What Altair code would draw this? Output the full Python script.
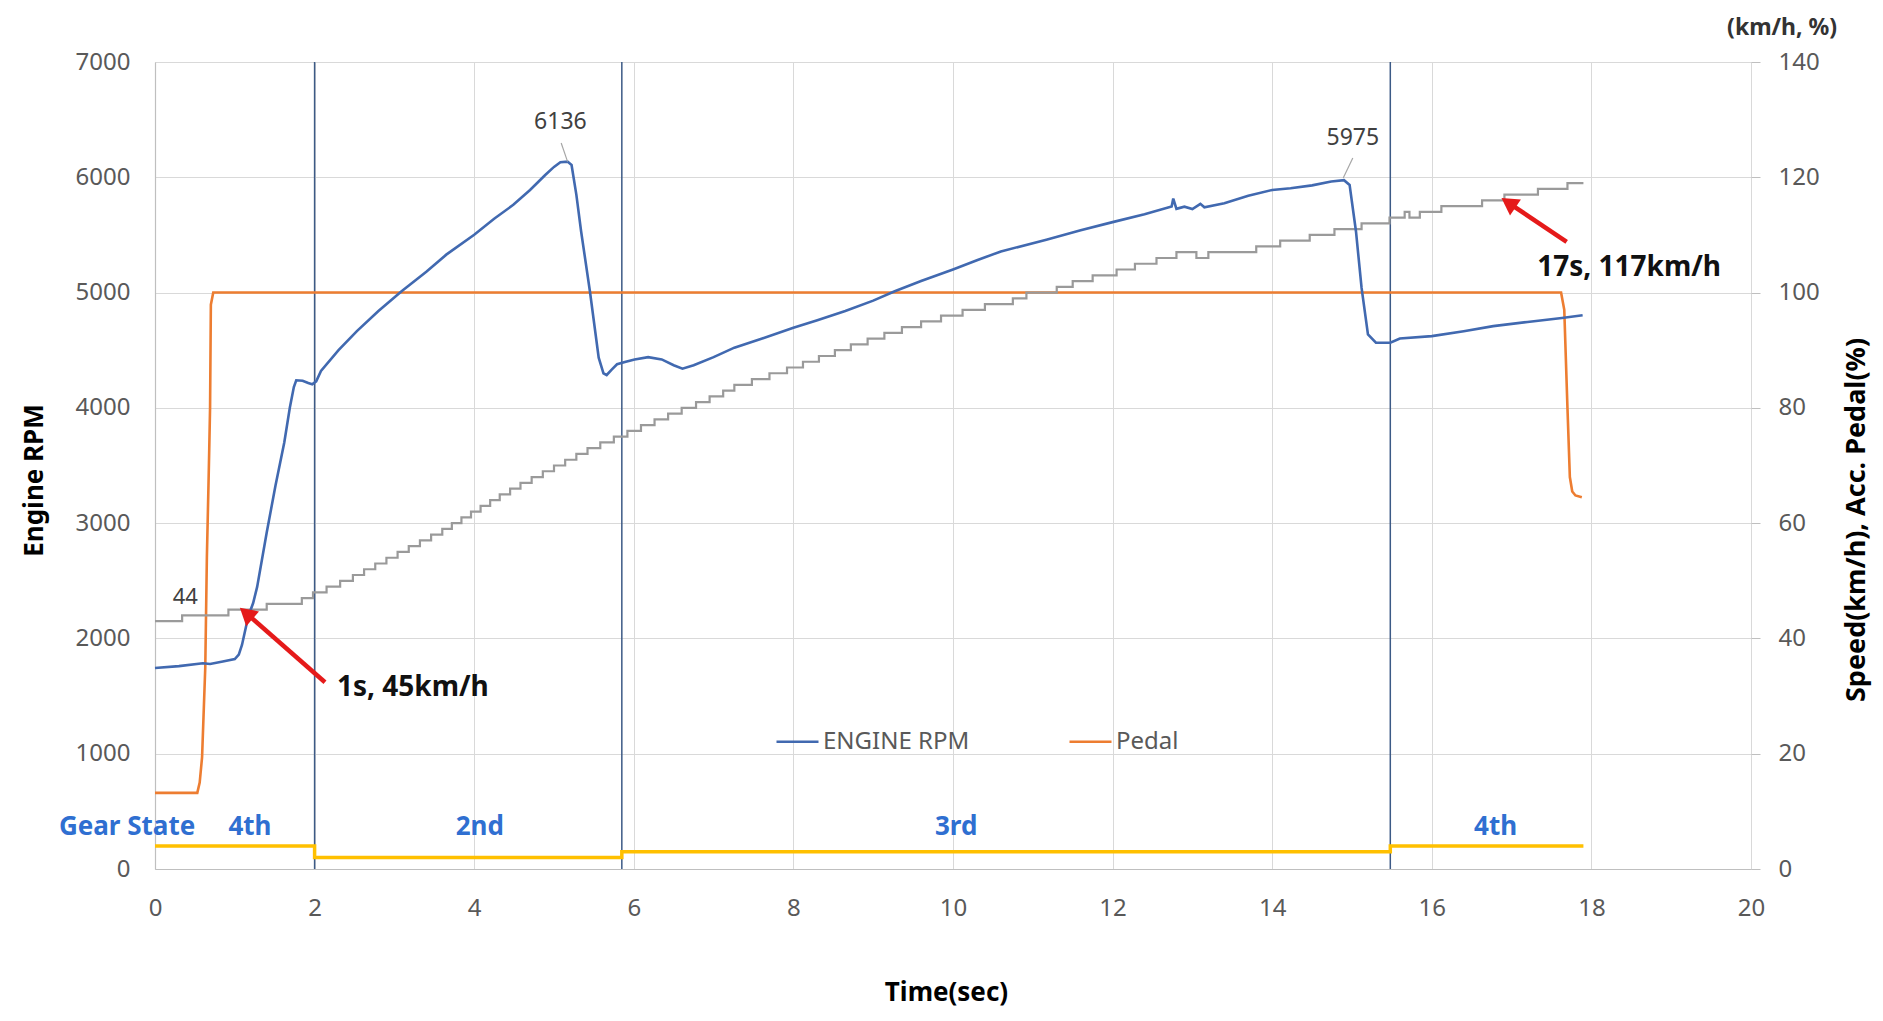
import altair as alt
import pandas as pd

FONT = "Noto Sans"

# ---------------- data ----------------
rpm_time = [0.00, 0.30, 0.60, 0.69, 0.85, 1.00, 1.05, 1.09, 1.17, 1.23, 1.28, 1.40, 1.51, 1.62,
            1.69, 1.74, 1.77, 1.85, 1.92, 1.97, 2.02, 2.08, 2.30, 2.53, 2.80, 3.09, 3.40, 3.65,
            4.00, 4.25, 4.49, 4.70, 4.89, 5.00, 5.08, 5.17, 5.22, 5.28, 5.34, 5.45, 5.56, 5.62,
            5.66, 5.72, 5.79, 5.90, 6.01, 6.18, 6.35, 6.50, 6.61, 6.75, 7.00, 7.26, 7.60, 8.00,
            8.30, 8.65, 9.00, 9.27, 9.60, 10.00, 10.30, 10.60, 11.17, 11.60, 12.00, 12.40, 12.74,
            12.76, 12.80, 12.90, 13.00, 13.10, 13.15, 13.40, 13.70, 14.00, 14.23, 14.50, 14.74,
            14.90, 14.97, 15.05, 15.12, 15.20, 15.30, 15.48, 15.60, 16.00, 16.40, 16.77, 17.20,
            17.63, 17.89]
rpm_value = [1743, 1760, 1785, 1778, 1800, 1821, 1860, 1943, 2195, 2307, 2447, 2918, 3327, 3700,
             4003, 4180, 4239, 4235, 4215, 4205, 4230, 4320, 4500, 4666, 4840, 5012, 5180, 5329,
             5501, 5640, 5761, 5890, 6020, 6090, 6130, 6136, 6107, 5850, 5530, 5012, 4435, 4300,
             4285, 4330, 4378, 4400, 4420, 4440, 4420, 4370, 4340, 4370, 4440, 4522, 4600, 4695,
             4760, 4840, 4930, 5012, 5100, 5200, 5280, 5357, 5458, 5540, 5611, 5680, 5746,
             5815, 5726, 5745, 5725, 5770, 5740, 5775, 5840, 5890, 5905, 5930, 5963,
             5975, 5934, 5530, 5040, 4637, 4565, 4565, 4602, 4622, 4665, 4709, 4745,
             4780, 4804]

pedal_time = [0.00, 0.53, 0.56, 0.59, 0.63, 0.65, 0.67, 0.68, 0.69, 0.70, 0.73,
              17.62, 17.66, 17.70, 17.73, 17.76, 17.80, 17.88]
pedal_value = [13.2, 13.2, 15.0, 19.4, 35.0, 54.0, 66.5, 73.0, 80.0, 97.9, 100.0,
               100.0, 97.0, 80.0, 68.0, 65.5, 64.8, 64.5]

speed_time = [0.00, 0.34, 0.92, 1.40, 1.84, 1.98, 2.15, 2.32, 2.48, 2.62, 2.76, 2.90, 3.04,
              3.18, 3.32, 3.46, 3.60, 3.72, 3.84, 3.96, 4.08, 4.20, 4.32, 4.45, 4.58, 4.72,
              4.86, 5.00, 5.14, 5.28, 5.42, 5.58, 5.75, 5.92, 6.09, 6.26, 6.43, 6.60, 6.78,
              6.95, 7.12, 7.26, 7.48, 7.70, 7.92, 8.12, 8.32, 8.52, 8.72, 8.93, 9.14, 9.36,
              9.60, 9.85, 10.12, 10.40, 10.75, 10.92, 11.30, 11.50, 11.75, 12.05, 12.28, 12.55,
              12.80, 13.05, 13.20, 13.80, 14.10, 14.47, 14.78, 15.12, 15.47, 15.66, 15.72,
              15.85, 16.12, 16.63, 16.91, 17.33, 17.70, 17.90]
speed_value = [43, 44, 45, 46, 47, 48, 49, 50, 51, 52, 53, 54, 55,
               56, 57, 58, 59, 60, 61, 62, 63, 64, 65, 66, 67, 68,
               69, 70, 71, 72, 73, 74, 75, 76, 77, 78, 79, 80, 81,
               82, 83, 84, 85, 86, 87, 88, 89, 90, 91, 92, 93, 94,
               95, 96, 97, 98, 99, 100, 101, 102, 103, 104, 105, 106,
               107, 106, 107, 108, 109, 110, 111, 112, 113, 114, 113,
               114, 115, 116, 117, 118, 119, 119]

gear_time = [0.0, 2.0, 5.85, 15.48, 17.9]
gear_value = [4, 2, 3, 4, 4]
gear_names = ["4th", "2nd", "3rd", "4th"]
shift_times = [2.0, 5.85, 15.48]

peak_time = [5.17, 14.90]
peak_rpm = [6136, 5975]

start_speed_label = "44"

x_ticks = list(range(0, 21, 2))
rpm_ticks = list(range(0, 7001, 1000))
right_ticks = list(range(0, 141, 20))

series_names = ["ENGINE RPM", "Pedal"]

# ---------------- annotation placement (text / arrow anchors) ----------------
gear_label_t = [1.19, 4.07, 10.04, 16.80]
gear_label_v = 7.3
peak_label_t = [5.08, 15.01]
peak_label_v = [6479, 6340]
leader_t1, leader_v1 = [5.17, 14.89], [6136, 5993]
leader_t2, leader_v2 = [5.09, 15.01], [6297, 6167]

# ---------------- styling ----------------
BLUE = "#4169B0"
ORANGE = "#ED7D31"
GRAY = "#9A9A9A"
GOLD = "#FFC000"
SHIFT = "#3C5A86"
RED = "#E51A1A"
GEARBLUE = "#2F6FD1"
GRID = "#D9D9D9"
LABEL = "#595959"

X_SCALE = alt.Scale(domain=[0, 20], nice=False, zero=False)
L_SCALE = alt.Scale(domain=[0, 7000], nice=False)
R_SCALE = alt.Scale(domain=[0, 140], nice=False)

x_axis = alt.Axis(values=x_ticks, format="d", title="Time(sec)", grid=True, gridColor=GRID,
                  gridWidth=1, ticks=False, tickSize=0, labelFontSize=24, labelColor=LABEL,
                  labelPadding=27, labelFont=FONT, labelFlush=False, domainColor="#BFBFBF",
                  domainWidth=1.2, titleFontSize=26, titleFontWeight="bold",
                  titleColor="#000000", titleFont=FONT, titleX=791, titleY=123,
                  titleBaseline="middle", titleAlign="center", titleAngle=0)

left_axis = alt.Axis(orient="left", values=rpm_ticks, format="d", title="Engine RPM", grid=True,
                     gridColor=GRID, gridWidth=1, ticks=False, tickSize=0, labelFontSize=24,
                     labelColor=LABEL, labelPadding=25, labelFont=FONT, labelFlush=False,
                     domainColor="#BFBFBF", domainWidth=1.2, titleFontSize=26,
                     titleFontWeight="bold", titleColor="#000000", titleFont=FONT,
                     titleX=-121, titleY=418, titleAngle=270, titleBaseline="middle",
                     titleAlign="center")

right_axis = alt.Axis(orient="right", values=right_ticks, format="d",
                      title="Speed(km/h), Acc. Pedal(%)",
                      grid=False, ticks=True, tickSize=9, tickColor="#BFBFBF", tickWidth=1,
                      labelPadding=18, labelFontSize=24, labelColor=LABEL, labelFont=FONT,
                      labelFlush=False, domain=False, titleFontSize=27, titleFontWeight="bold",
                      titleColor="#000000", titleFont=FONT, titleX=105, titleY=457.5,
                      titleAngle=270, titleBaseline="middle", titleAlign="center")


def X(field="t"):
    return alt.X(f"{field}:Q", scale=X_SCALE, axis=x_axis)


def YL(field="v", axis=None):
    return alt.Y(f"{field}:Q", scale=L_SCALE, axis=axis)


def YR(field="v", axis=None):
    return alt.Y(f"{field}:Q", scale=R_SCALE, axis=axis)


color_enc = alt.Color(
    "series:N",
    scale=alt.Scale(domain=series_names, range=[BLUE, ORANGE]),
    legend=alt.Legend(title=None, orient="none", legendX=620, legendY=657, direction="horizontal",
                      symbolType="stroke", symbolSize=1764, symbolStrokeWidth=2.5,
                      labelFontSize=24, labelColor=LABEL, labelFont=FONT, labelOffset=3,
                      columnPadding=94, padding=0),
)

# ---------------- frames ----------------
rpm_df = pd.DataFrame({"t": rpm_time, "v": rpm_value, "series": series_names[0]})
pedal_df = pd.DataFrame({"t": pedal_time, "v": pedal_value, "series": series_names[1]})
speed_df = pd.DataFrame({"t": speed_time, "v": speed_value})
gear_df = pd.DataFrame({"t": gear_time, "v": gear_value})
shift_df = pd.DataFrame({"t": shift_times})
peak_lbl_df = pd.DataFrame({"t": peak_label_t, "v": peak_label_v,
                            "label": [str(p) for p in peak_rpm]})
leader_df = pd.DataFrame({"t": leader_t1, "v": leader_v1, "t2": leader_t2, "v2": leader_v2})
gear_lbl_df = pd.DataFrame({"t": [-0.35] + gear_label_t, "v": [gear_label_v] * 5,
                            "label": ["Gear State"] + gear_names})
speed44_df = pd.DataFrame({"t": [0.38], "v": [47.2], "label": [start_speed_label]})
unit_df = pd.DataFrame({"t": [20.39], "v": [145.9], "label": ["(km/h, %)"]})
note_df = pd.DataFrame({"t": [2.28, 17.32], "v": [31.4, 104.3],
                        "label": ["1s, 45km/h", "17s, 117km/h"]})
arrow_df = pd.DataFrame({"t": [2.13, 17.69], "v": [32.4, 108.8],
                         "t2": [1.17, 16.99], "v2": [44.05, 115.3]})
head_df = pd.DataFrame({"t": [1.17, 16.99], "v": [44.05, 115.3], "ang": [311, 304]})

# ---------------- layers ----------------
shift_layer = alt.Chart(shift_df).mark_rule(color=SHIFT, strokeWidth=1.5).encode(x=X())

pedal_layer = alt.Chart(pedal_df).mark_line(strokeWidth=2.6).encode(
    x=X(), y=YR(axis=right_axis), color=color_enc)

speed_layer = alt.Chart(speed_df).mark_line(color=GRAY, strokeWidth=2.2,
                                            interpolate="step-after").encode(x=X(), y=YR())

gear_layer = alt.Chart(gear_df).mark_line(color=GOLD, strokeWidth=3.5,
                                          interpolate="step-after").encode(x=X(), y=YR())

rpm_layer = alt.Chart(rpm_df).mark_line(strokeWidth=2.6).encode(
    x=X(), y=YL(axis=left_axis), color=color_enc)

leader_layer = alt.Chart(leader_df).mark_rule(color="#A6A6A6", strokeWidth=1.2).encode(
    x=X(), y=YL(), x2="t2:Q", y2="v2:Q")

peak_text = alt.Chart(peak_lbl_df).mark_text(font=FONT, fontSize=23, color="#404040",
                                             align="center", baseline="middle").encode(
    x=X(), y=YL(), text="label:N")

gear_text = alt.Chart(gear_lbl_df).mark_text(font=FONT, fontSize=26, fontWeight="bold",
                                             color=GEARBLUE, align="center",
                                             baseline="middle").encode(
    x=X(), y=YR(), text="label:N")

speed44_text = alt.Chart(speed44_df).mark_text(font=FONT, fontSize=22, color="#404040",
                                               align="center", baseline="middle").encode(
    x=X(), y=YR(), text="label:N")

unit_text = alt.Chart(unit_df).mark_text(font=FONT, fontSize=23, fontWeight="bold",
                                         color="#333333", align="center",
                                         baseline="middle").encode(
    x=X(), y=YR(), text="label:N")

note_text = alt.Chart(note_df).mark_text(font=FONT, fontSize=28, fontWeight="bold",
                                         color="#111111", align="left",
                                         baseline="middle").encode(
    x=X(), y=YR(), text="label:N")

arrow_shaft = alt.Chart(arrow_df).mark_rule(color=RED, strokeWidth=4.5).encode(
    x=X(), y=YR(), x2="t2:Q", y2="v2:Q")

arrow_head = alt.Chart(head_df).mark_point(shape="triangle", filled=True, size=380, color=RED,
                                           opacity=1).encode(
    x=X(), y=YR(), angle=alt.Angle("ang:Q", scale=None))

chart = alt.layer(
    shift_layer, pedal_layer, speed_layer, gear_layer, rpm_layer, leader_layer, peak_text,
    gear_text, speed44_text, unit_text, note_text, arrow_shaft, arrow_head
).resolve_scale(y="independent").properties(
    width=1596, height=807,
    padding={"left": 155, "top": 62, "right": 132, "bottom": 152},
    autosize=alt.AutoSizeParams(type="none"),
    background="white",
).configure_view(stroke=None).configure(font=FONT)

chart.save("out.html", embed_options={"renderer": "svg", "actions": False})
